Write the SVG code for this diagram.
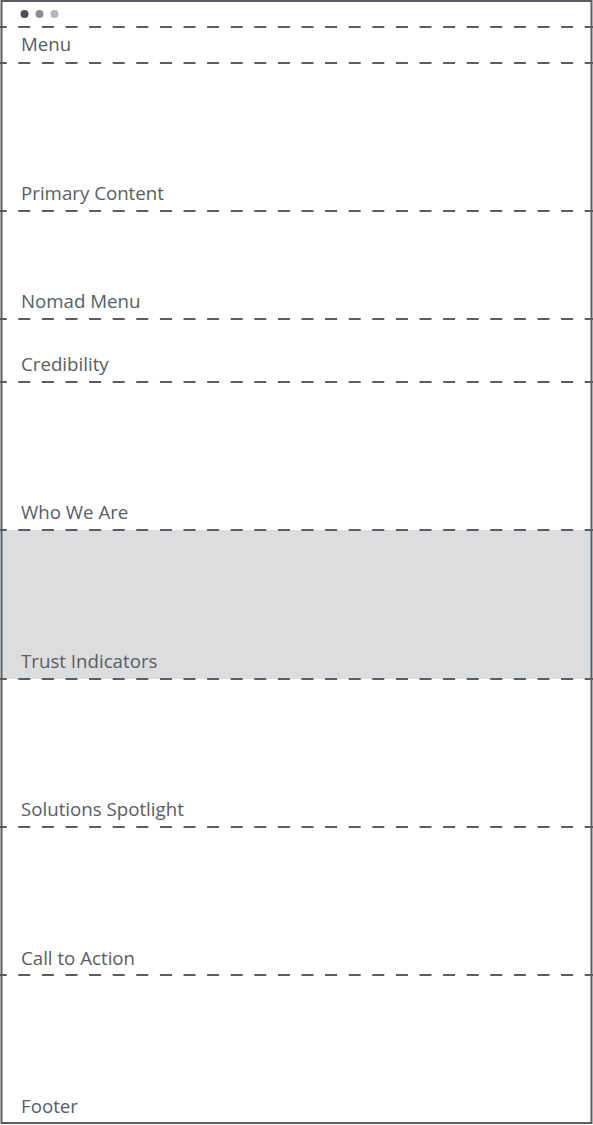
<svg xmlns="http://www.w3.org/2000/svg" width="593" height="1125" viewBox="0 0 593 1125">
<style>
.sep{stroke:#5a5d63;stroke-width:2;stroke-dasharray:12 11.6;fill:none}
.lbl{font-family:"Open Sans","Liberation Sans",sans-serif;font-size:18.7px;fill:#5a5d63}
</style>
<rect x="0" y="0" width="593" height="1125" fill="#ffffff"/>
<g id="band-trust">
<rect x="1" y="530" width="590" height="149" fill="#dcdddf"/>
</g>
<g id="window-dots">
<circle cx="24.5" cy="14" r="4" fill="#4b4e57"/>
<circle cx="39.5" cy="14" r="4" fill="#8d8f93"/>
<circle cx="54.5" cy="14" r="4" fill="#b4b6b9"/>
</g>
<g id="connectors">
<line class="sep" x1="-5.3" y1="27" x2="593" y2="27"/>
<line class="sep" x1="-5.3" y1="63" x2="593" y2="63"/>
<line class="sep" x1="-5.3" y1="211" x2="593" y2="211"/>
<line class="sep" x1="-5.3" y1="319" x2="593" y2="319"/>
<line class="sep" x1="-5.3" y1="382" x2="593" y2="382"/>
<line class="sep" x1="-5.3" y1="530" x2="593" y2="530"/>
<line class="sep" x1="-5.3" y1="679" x2="593" y2="679"/>
<line class="sep" x1="-5.3" y1="827" x2="593" y2="827"/>
<line class="sep" x1="-5.3" y1="975" x2="593" y2="975"/>
</g>
<g id="menu"><text class="lbl" x="21" y="51">Menu</text></g>
<g id="primary-content"><text class="lbl" x="21" y="200">Primary Content</text></g>
<g id="nomad-menu"><text class="lbl" x="21" y="308">Nomad Menu</text></g>
<g id="credibility"><text class="lbl" x="21" y="371">Credibility</text></g>
<g id="who-we-are"><text class="lbl" x="21" y="519">Who We Are</text></g>
<g id="trust-indicators"><text class="lbl" x="21" y="668">Trust Indicators</text></g>
<g id="solutions-spotlight"><text class="lbl" x="21" y="816">Solutions Spotlight</text></g>
<g id="call-to-action"><text class="lbl" x="21" y="965">Call to Action</text></g>
<g id="footer"><text class="lbl" x="21" y="1113">Footer</text></g>
<g id="frame">
<rect x="1.5" y="1" width="590" height="1122" fill="none" stroke="#5a5d63" stroke-width="2"/>
</g>
</svg>
